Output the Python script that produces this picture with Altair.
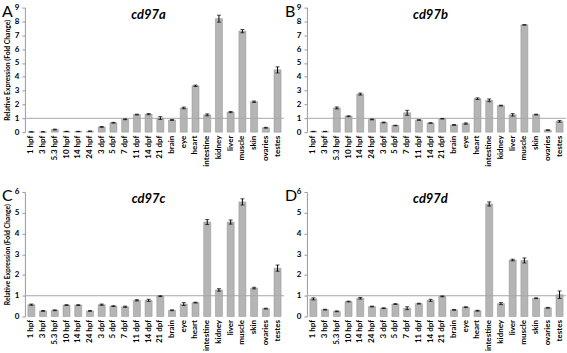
import altair as alt
import pandas as pd

categories = ["1 hpf", "3 hpf", "5.3 hpf", "10 hpf", "14 hpf", "24 hpf", "3 dpf", "5 dpf",
              "7 dpf", "11 dpf", "14 dpf", "21 dpf", "brain", "eye", "heart", "intestine",
              "kidney", "liver", "muscle", "skin", "ovaries", "testes"]

a_vals = [0.02, 0.02, 0.19, 0.05, 0.05, 0.07, 0.38, 0.68, 0.93, 1.27, 1.30, 1.02, 0.88, 1.75,
          3.35, 1.25, 8.20, 1.45, 7.30, 2.20, 0.32, 4.50]
a_err = [0.01, 0.01, 0.03, 0.01, 0.01, 0.01, 0.03, 0.03, 0.03, 0.03, 0.04, 0.10, 0.03, 0.06,
         0.05, 0.07, 0.25, 0.04, 0.12, 0.05, 0.03, 0.22]

b_vals = [0.05, 0.05, 1.75, 1.15, 2.75, 0.92, 0.70, 0.48, 1.40, 0.88, 0.66, 0.97, 0.52, 0.62,
          2.42, 2.30, 1.92, 1.25, 7.75, 1.27, 0.15, 0.78]
b_err = [0.01, 0.01, 0.07, 0.03, 0.07, 0.03, 0.03, 0.02, 0.18, 0.02, 0.02, 0.02, 0.03, 0.05,
         0.06, 0.10, 0.03, 0.09, 0.02, 0.03, 0.02, 0.06]

c_vals = [0.57, 0.27, 0.30, 0.55, 0.55, 0.27, 0.57, 0.50, 0.47, 0.78, 0.78, 0.98, 0.30, 0.60,
          0.67, 4.55, 1.28, 4.55, 5.52, 1.37, 0.38, 2.33]
c_err = [0.03, 0.02, 0.02, 0.02, 0.02, 0.02, 0.03, 0.02, 0.03, 0.03, 0.05, 0.02, 0.02, 0.07,
         0.02, 0.12, 0.06, 0.10, 0.15, 0.04, 0.02, 0.15]

d_vals = [0.85, 0.33, 0.25, 0.72, 0.88, 0.48, 0.40, 0.60, 0.40, 0.62, 0.78, 0.97, 0.32, 0.45,
          0.28, 5.42, 0.62, 2.72, 2.70, 0.88, 0.42, 1.05]
d_err = [0.05, 0.02, 0.02, 0.02, 0.04, 0.02, 0.02, 0.02, 0.07, 0.02, 0.05, 0.02, 0.02, 0.02,
         0.02, 0.10, 0.05, 0.04, 0.12, 0.02, 0.02, 0.18]

FONT = "Lato"
W = 260
H = 125


def panel(vals, errs, title, letter, ymax, show_title):
    df = pd.DataFrame({"cat": categories, "v": vals, "e": errs})
    df["lo"] = df["v"] - df["e"]
    df["hi"] = df["v"] + df["e"]
    ytitle = "Relative Expression (Fold Change)" if show_title else ""
    yscale = alt.Scale(domain=[0, ymax], nice=False)
    xscale = alt.Scale(paddingInner=0.4, paddingOuter=0.25)
    xaxis = alt.Axis(labelAngle=-90, labelFont=FONT, labelFontSize=8, labelFontWeight="bold",
                     labelColor="black", domain=False, ticks=False, labelPadding=3,
                     labelOverlap=False)
    yaxis = alt.Axis(values=list(range(0, ymax + 1)), grid=False, domainColor="#9a9a9a",
                     tickColor="#9a9a9a", tickSize=3, labelFont=FONT, labelFontSize=8,
                     labelFontWeight="bold", labelColor="black", labelPadding=3,
                     labelOverlap=False, labelFlush=False,
                     titleFont=FONT, titleFontSize=6.8, titleFontWeight="bold",
                     titleColor="black", titlePadding=4)

    def X():
        return alt.X("cat:N", sort=categories, title=None, scale=xscale, axis=xaxis)

    def Y(f):
        return alt.Y(f, title=ytitle, scale=yscale, axis=yaxis)

    base = alt.Chart(df)
    bars = base.mark_bar(color="#b5b5b5", stroke="#8f8f8f", strokeWidth=0.5).encode(
        x=X(), y=Y("v:Q"))
    rule = base.mark_rule(color="black", strokeWidth=1).encode(
        x=X(), y=Y("lo:Q"), y2="hi:Q")
    cap_hi = base.mark_tick(color="black", size=4, thickness=1).encode(x=X(), y=Y("hi:Q"))
    cap_lo = base.mark_tick(color="black", size=4, thickness=1).encode(x=X(), y=Y("lo:Q"))
    ref = alt.Chart(pd.DataFrame({"r": [1]})).mark_rule(color="#a8a8a8", strokeWidth=1).encode(
        y=Y("r:Q"))
    ttl = alt.Chart(pd.DataFrame({"t": [title]})).mark_text(
        font=FONT, fontSize=13, fontWeight="bold", fontStyle="italic", color="black",
        align="center", baseline="alphabetic").encode(
        text="t:N", x=alt.value(124), y=alt.value(11))
    let = alt.Chart(pd.DataFrame({"t": [letter]})).mark_text(
        font=FONT, fontSize=16, color="black", align="left", baseline="alphabetic").encode(
        text="t:N", x=alt.value(-23 if show_title else -22), y=alt.value(9))
    return alt.layer(bars, ref, rule, cap_hi, cap_lo, ttl, let).properties(width=W, height=H)


pa = panel(a_vals, a_err, "cd97a", "A", 9, True)
pb = panel(b_vals, b_err, "cd97b", "B", 9, False)
pc = panel(c_vals, c_err, "cd97c", "C", 6, True)
pd_ = panel(d_vals, d_err, "cd97d", "D", 6, False)

chart = alt.vconcat(
    alt.hconcat(pa, pb, spacing=0),
    alt.hconcat(pc, pd_, spacing=0),
    spacing=21,
).properties(
    padding={"top": 3, "left": 2, "right": 0, "bottom": 0}, background="white"
).configure_view(stroke=None)

chart.save("out.html", embed_options={"renderer": "svg", "actions": False})
